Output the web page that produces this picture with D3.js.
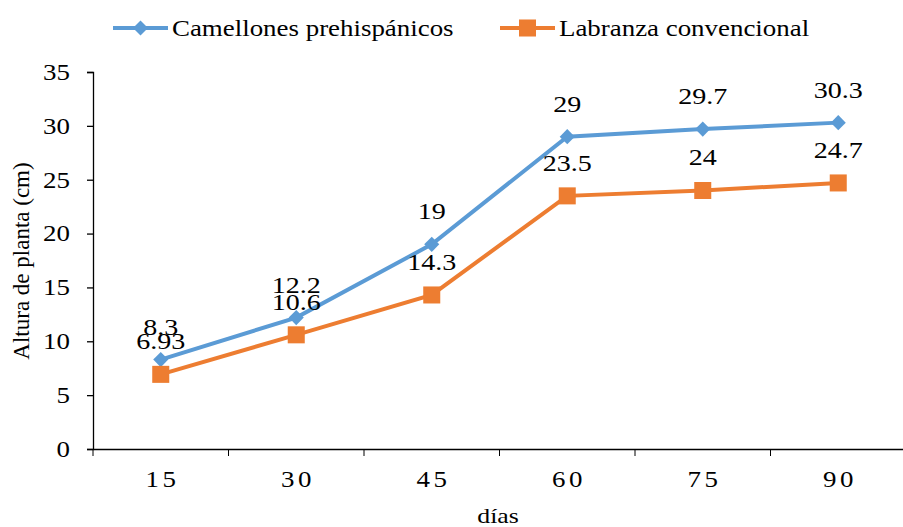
<!DOCTYPE html>
<html>
<head>
    <meta charset="UTF-8">
    <script src="https://cdn.jsdelivr.net/npm/d3@7"></script>
</head>
<body style="margin:0">
<script>
    // datos
    var dias = ["15", "30", "45", "60", "75", "90"];
    var camellones = [8.3, 12.2, 19, 29, 29.7, 30.3];
    var labranza = [6.93, 10.6, 14.3, 23.5, 24, 24.7];
    var yTicks = [0, 5, 10, 15, 20, 25, 30, 35];
    var seriesNames = ["Camellones prehispánicos", "Labranza convencional"];

    var W = 903, H = 527;
    var margin = {top: 72, left: 93, bottom: 78};
    var fuente = "Liberation Serif";
    var sx = 1.17; // el original está algo estirado en horizontal

    var svg = d3.select("body").append("svg")
        .attr("width", W)
        .attr("height", H);

    // estira un texto en horizontal sin mover su punto de anclaje
    function estirar(sel) {
        sel.each(function() {
            var t = d3.select(this);
            var x0 = +t.attr("x") || 0;
            t.attr("x", x0 / sx).attr("transform", "scale(" + sx + ",1)");
        });
    }

    var x = d3.scaleBand()
        .domain(dias)
        .range([margin.left, 906]);

    var y = d3.scaleLinear()
        .domain([0, 35])
        .range([H - margin.bottom, margin.top]);

    // eje y
    var yAxis = svg.append("g")
        .attr("transform", "translate(" + margin.left + ",0)")
        .call(d3.axisLeft(y).tickValues(yTicks).tickSize(6).tickPadding(17));
    yAxis.attr("font-family", fuente).attr("font-size", 23);
    estirar(yAxis.selectAll("text"));

    // eje x con marcas entre categorías
    var xAxis = svg.append("g")
        .attr("transform", "translate(0," + y(0) + ")")
        .call(d3.axisBottom(x).tickSize(0).tickPadding(22));
    xAxis.attr("font-family", fuente).attr("font-size", 23);
    xAxis.selectAll("text").attr("letter-spacing", 3).attr("dx", 1.5);
    estirar(xAxis.selectAll("text"));
    xAxis.selectAll(".tickmark")
        .data(d3.range(dias.length + 1))
        .enter().append("line")
        .attr("x1", d => margin.left + d * x.step())
        .attr("x2", d => margin.left + d * x.step())
        .attr("y1", 0).attr("y2", 7)
        .attr("stroke", "black");

    svg.selectAll(".domain").attr("stroke", "black").attr("stroke-width", 1.3);
    svg.selectAll(".tick line").attr("stroke", "black").attr("stroke-width", 1.3);

    // títulos de ejes
    svg.append("text")
        .attr("x", 498)
        .attr("y", 523)
        .attr("text-anchor", "middle")
        .attr("font-family", fuente)
        .attr("font-size", 22)
        .text("días")
        .call(estirar);

    svg.append("text")
        .attr("transform", "translate(29,261) rotate(-90)")
        .attr("text-anchor", "middle")
        .attr("font-family", fuente)
        .attr("font-size", 23)
        .text("Altura de planta (cm)");

    var line = d3.line()
        .x((d, i) => x(dias[i]) + x.bandwidth() / 2)
        .y(d => y(d));

    var colors = ["#5b9bd5", "#ed7d31"];
    var data = [camellones, labranza];
    var simbolos = [d3.symbol().type(d3.symbolDiamond2).size(145), d3.symbol().type(d3.symbolSquare).size(290)];

    data.forEach(function(vals, s) {
        svg.append("path")
            .datum(vals)
            .attr("d", line)
            .attr("fill", "none")
            .attr("stroke", colors[s])
            .attr("stroke-width", 4);

        svg.selectAll(".m" + s)
            .data(vals)
            .enter().append("path")
            .attr("transform", (d, i) => "translate(" + (x(dias[i]) + x.bandwidth() / 2) + "," + y(d) + ")")
            .attr("d", simbolos[s])
            .attr("fill", colors[s]);

        svg.selectAll(".l" + s)
            .data(vals)
            .enter().append("text")
            .attr("x", (d, i) => x(dias[i]) + x.bandwidth() / 2)
            .attr("y", d => y(d) - 25)
            .attr("text-anchor", "middle")
            .attr("font-family", fuente)
            .attr("font-size", 24)
            .text(d => d)
            .call(estirar);
    });

    // leyenda
    var legendX = [113, 500];
    seriesNames.forEach(function(name, s) {
        var g = svg.append("g").attr("transform", "translate(" + legendX[s] + ",28)");
        g.append("line")
            .attr("x1", 0).attr("x2", 55)
            .attr("stroke", colors[s]).attr("stroke-width", 4);
        g.append("path")
            .attr("transform", "translate(27.5,0)")
            .attr("d", simbolos[s])
            .attr("fill", colors[s]);
        g.append("text")
            .attr("x", 59).attr("y", 8)
            .attr("font-family", fuente)
            .attr("font-size", 23)
            .text(name)
            .call(estirar);
    });
</script>
</body>
</html>
